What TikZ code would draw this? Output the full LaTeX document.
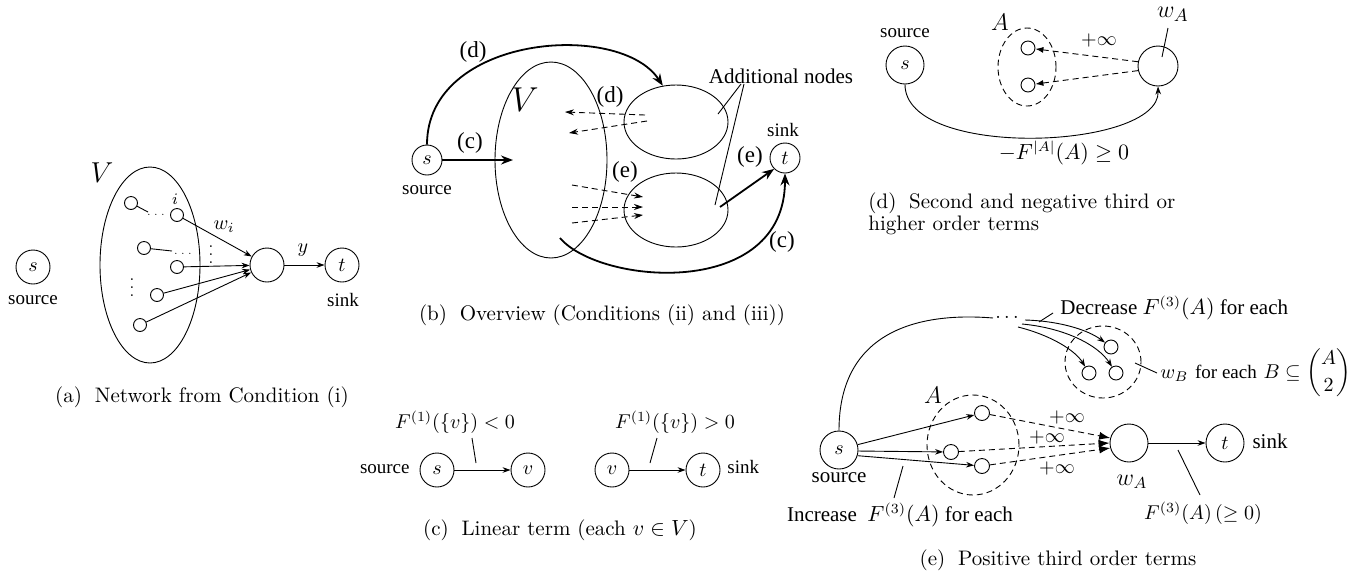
\documentclass[tikz,border=0pt]{standalone}
\usepackage{amsmath,amssymb}
\usepackage{fontspec}
\newfontfamily\tms{Liberation Serif}
\usetikzlibrary{arrows.meta,shapes.geometric}
\tikzset{
 vtx/.style={circle,draw,line width=0.45pt,inner sep=0pt,minimum size=#1,font=\fontsize{10}{12}\selectfont},
 vtx/.default=17pt,
 ov/.style n args={2}{ellipse,draw,line width=0.45pt,inner sep=0pt,minimum width=#1,minimum height=#2},
 dov/.style n args={2}{ov={#1}{#2},dash pattern=on 3pt off 2pt},
 lbl/.style={font=\tms\fontsize{9.5}{11}\selectfont,inner sep=0pt},
 blbl/.style={font=\tms\fontsize{10.5}{12}\selectfont,inner sep=0pt},
 tlbl/.style={font=\tms\fontsize{11.5}{13}\selectfont,inner sep=0pt},
 mlbl/.style={font=\fontsize{10}{12}\selectfont,inner sep=0pt},
 captxt/.style={font=\fontsize{10.5}{11}\selectfont,inner sep=0pt},
 plainln/.style={line width=0.45pt},
 thinarr/.style={-{Stealth[length=4pt,width=2.8pt]},line width=0.45pt},
 thkarr/.style={-{Stealth[length=6pt,width=4.5pt]},line width=0.9pt},
 dsh/.style={dash pattern=on 3pt off 2pt,line width=0.45pt},
 vdt/.style={font=\fontsize{8}{9}\selectfont,inner sep=0pt},
}
\begin{document}
\begin{tikzpicture}[x=0.5pt,y=-0.5pt]
\useasboundingbox (0,0) rectangle (1351,580);
% ---------------- (a)
\node[vtx=17pt] (as) at (33,267) {$s$};
\node[lbl] at (33,300) {source};
\node[ov={50pt}{98pt}] (aV) at (150,265) {};
\node[font=\fontsize{14}{16}\selectfont] at (102,173) {$V$};
\foreach \n/\x/\y in {a1/131/203,a2/177/215,a3/144/248,a4/177/267,a5/157/295,a6/140/325}
  \node[vtx=6.5pt] (\n) at (\x,\y) {};
\node[font=\fontsize{8}{9}\selectfont] at (175,199) {$i$};
\coordinate (a1e) at (148,212);
\draw[plainln] (a1) -- (a1e);
\node[font=\tiny,anchor=base,inner sep=0pt] at (156,215) {$\ldots$};
\coordinate (a3e) at (172,251);
\draw[plainln] (a3) -- (a3e);
\node[font=\tiny,anchor=base,inner sep=0pt] at (183,254) {$\ldots$};
\node[vdt] at (132,282) {$\vdots$};
\node[vdt] at (211,249) {$\vdots$};
\node[vtx=17pt] (ab) at (267,265) {};
\foreach \n in {a2,a4,a5,a6} \draw[thinarr] (\n) -- (ab);
\node[mlbl] at (224,227) {$w_i$};
\node[vtx=17pt] (at) at (342,265) {$t$};
\draw[thinarr] (ab) -- (at);
\node[mlbl] at (303,250) {$y$};
\node[lbl] at (343,300) {sink};
\node[captxt] at (202,397) {(a)\; Network from Condition (i)};
% ---------------- (b)
\node[vtx=15pt] (bs) at (427,160) {$s$};
\node[lbl] at (427,190) {source};
\node[ov={56pt}{98pt}] (bV) at (551,160) {};
\node[font=\fontsize{17}{20}\selectfont] at (525,100) {$V$};
\node[ov={52pt}{37pt}] (bT) at (676,122) {};
\node[ov={52pt}{37pt}] (bB) at (676,210) {};
\draw[thkarr] (bs.north) .. controls (427,35) and (620,20) .. (bT.110);
\node[tlbl] at (473,52) {(d)};
\coordinate (bc) at (513,160);
\draw[thkarr] (bs) -- (bc);
\node[tlbl] at (470,143) {(c)};
\coordinate (bd1s) at (645,115); \coordinate (bd1e) at (565,112);
\coordinate (bd2s) at (647,121); \coordinate (bd2e) at (569,133);
\draw[dsh,-{Stealth[length=4.5pt,width=3pt]}] (bd1s) -- (bd1e);
\draw[dsh,-{Stealth[length=4.5pt,width=3pt]}] (bd2s) -- (bd2e);
\node[tlbl] at (610,97) {(d)};
\node[tlbl] at (625,172) {(e)};
\coordinate (be1s) at (572,185); \coordinate (be1e) at (643,197);
\coordinate (be2s) at (572,207); \coordinate (be2e) at (643,207);
\coordinate (be3s) at (572,223); \coordinate (be3e) at (643,215);
\draw[dsh,-{Stealth[length=4.5pt,width=3pt]}] (be1s) -- (be1e);
\draw[dsh,-{Stealth[length=4.5pt,width=3pt]}] (be2s) -- (be2e);
\draw[dsh,-{Stealth[length=4.5pt,width=3pt]}] (be3s) -- (be3e);
\node[blbl] (badd) at (781,76) {Additional nodes};
\coordinate (bp1) at (741,84); \coordinate (bp2) at (744,84);
\coordinate (bq1) at (718,114); \coordinate (bq2) at (715,205);
\draw[plainln] (bp1) -- (bq1);
\draw[plainln] (bp2) -- (bq2);
\node[vtx=15pt] (bt) at (785,158) {$t$};
\node[lbl] at (783,130) {sink};
\coordinate (be) at (720,207);
\draw[thkarr] (be) -- (bt.225);
\node[tlbl] at (750,157) {(e)};
\coordinate (bcs) at (560,238);
\draw[thkarr] (bcs) .. controls (600,285) and (785,300) .. (bt.south);
\node[tlbl] at (782,242) {(c)};
\node[captxt] at (602,315) {(b)\; Overview (Conditions (ii) and (iii))};
% ---------------- (c)
\node[vtx=17pt] (cs) at (437,470) {$s$};
\node[lbl,anchor=east] at (410,469) {source};
\node[vtx=17pt] (cv) at (528,470) {$v$};
\draw[thinarr] (cs) -- (cv);
\node[mlbl] at (455,422) {$F^{(1)}(\{v\})<0$};
\coordinate (cp1a) at (472,438); \coordinate (cp1b) at (476,463);
\draw[plainln] (cp1a) -- (cp1b);
\node[vtx=17pt] (cv2) at (612,470) {$v$};
\node[vtx=17pt] (ct) at (703,470) {$t$};
\draw[thinarr] (cv2) -- (ct);
\node[lbl,anchor=west] at (727,467) {sink};
\node[mlbl] at (675,422) {$F^{(1)}(\{v\})>0$};
\coordinate (cp2a) at (657,438); \coordinate (cp2b) at (650,463);
\draw[plainln] (cp2a) -- (cp2b);
\node[captxt] at (560,530) {(c)\; Linear term (each $v\in V$)};
% ---------------- (d)
\node[vtx=19pt] (ds) at (905,65) {$s$};
\node[lbl] at (905,33) {source};
\node[dov={29pt}{39pt}] (dA) at (1027,67) {};
\node[font=\fontsize{12}{14}\selectfont] at (1000,22) {$A$};
\node[vtx=7pt] (d1) at (1028,48) {};
\node[vtx=7pt] (d2) at (1028,85) {};
\node[vtx=20pt] (dw) at (1158,66) {};
\node[font=\fontsize{12.5}{14}\selectfont] at (1173,14) {$w_A$};
\coordinate (dwp1) at (1168,28); \coordinate (dwp2) at (1162,57);
\draw[plainln] (dwp1) -- (dwp2);
\draw[dsh,-{Latex[length=4pt,width=3pt]}] (dw.168) -- (d1);
\draw[dsh,-{Latex[length=4pt,width=3pt]}] (dw.193) -- (d2);
\node[mlbl] at (1099,40) {$+\infty$};
\draw[thinarr] (ds.south) .. controls (905,160) and (1160,150) .. (dw.south);
\node[font=\fontsize{10.5}{12}\selectfont] at (1064,153) {$-F^{|A|}(A)\geq 0$};
\node[captxt,anchor=north west,align=left] at (868,192) {(d)\; Second and negative third or\\higher order terms};
% ---------------- (e)
\node[vtx=19pt] (es) at (839,450) {$s$};
\node[blbl] at (839,478) {source};
\node[dov={46pt}{50pt}] (eA) at (973,445) {};
\node[font=\fontsize{12}{14}\selectfont] at (933,395) {$A$};
\node[vtx=7.5pt] (e1) at (982,413) {};
\node[vtx=7.5pt] (e2) at (951,452) {};
\node[vtx=7.5pt] (e3) at (982,466) {};
\draw[thinarr] (es.16) -- (e1);
\draw[thinarr] (es.-3) -- (e2);
\draw[thinarr] (es.-17) -- (e3);
\coordinate (etop) at (993,318);
\draw[plainln] (es.north) .. controls (839,330) and (920,312) .. (etop);
\node[anchor=base,inner sep=0pt] at (1007,318) {$\ldots$};
\coordinate (eq1) at (1025,320); \coordinate (eq2) at (1022,324); \coordinate (eq3) at (1018,327);
\node[dov={38pt}{36pt}] (eB) at (1103,362) {};
\node[vtx=7pt] (b1) at (1111,347) {};
\node[vtx=7pt] (b2) at (1089,373) {};
\node[vtx=7pt] (b3) at (1116,373) {};
\draw[thinarr] (eq1) .. controls (1060,321) and (1088,330) .. (b1);
\draw[thinarr] (eq2) .. controls (1065,328) and (1098,345) .. (b3);
\draw[thinarr] (eq3) .. controls (1050,335) and (1075,350) .. (b2);
\coordinate (ebp1) at (1135,363); \coordinate (ebp2) at (1157,373);
\draw[plainln] (ebp1) -- (ebp2);
\node[anchor=west,inner sep=0pt,font=\fontsize{10}{12}\selectfont] at (1160,373) {$w_B$\ {\tms\fontsize{9.5}{11}\selectfont for each} $B\subseteq\dbinom{A}{2}$};
\node[blbl,anchor=west] at (1060,308) {Decrease $F^{(3)}(A)$ for each};
\coordinate (edp1) at (1039,322); \coordinate (edp2) at (1053,313);
\draw[plainln] (edp1) -- (edp2);
\node[vtx=19pt] (ew) at (1129,443) {};
\node[font=\fontsize{12}{14}\selectfont] at (1132,482) {$w_A$};
\draw[dsh,-{Latex[length=5.5pt,width=4pt]}] (e1) -- (ew.165);
\draw[dsh,-{Latex[length=5.5pt,width=4pt]}] (e2) -- (ew.180);
\draw[dsh,-{Latex[length=5.5pt,width=4pt]}] (e3) -- (ew.195);
\node[mlbl] at (1067,417) {$+\infty$};
\node[mlbl] at (1047,437) {$+\infty$};
\node[mlbl] at (1057,468) {$+\infty$};
\node[vtx=19pt] (et) at (1225,443) {$t$};
\draw[thinarr] (ew) -- (et);
\node[blbl] at (1270,441) {sink};
\coordinate (efp1) at (1178,450); \coordinate (efp2) at (1200,495);
\draw[plainln] (efp1) -- (efp2);
\node[mlbl] at (1203,513) {$F^{(3)}(A)\,(\geq 0)$};
\node[blbl] at (900,515) {Increase\ \ $F^{(3)}(A)$ for each};
\coordinate (eip1) at (903,466); \coordinate (eip2) at (894,498);
\draw[plainln] (eip1) -- (eip2);
\node[captxt] at (1058,560) {(e)\; Positive third order terms};
\end{tikzpicture}
\end{document}
